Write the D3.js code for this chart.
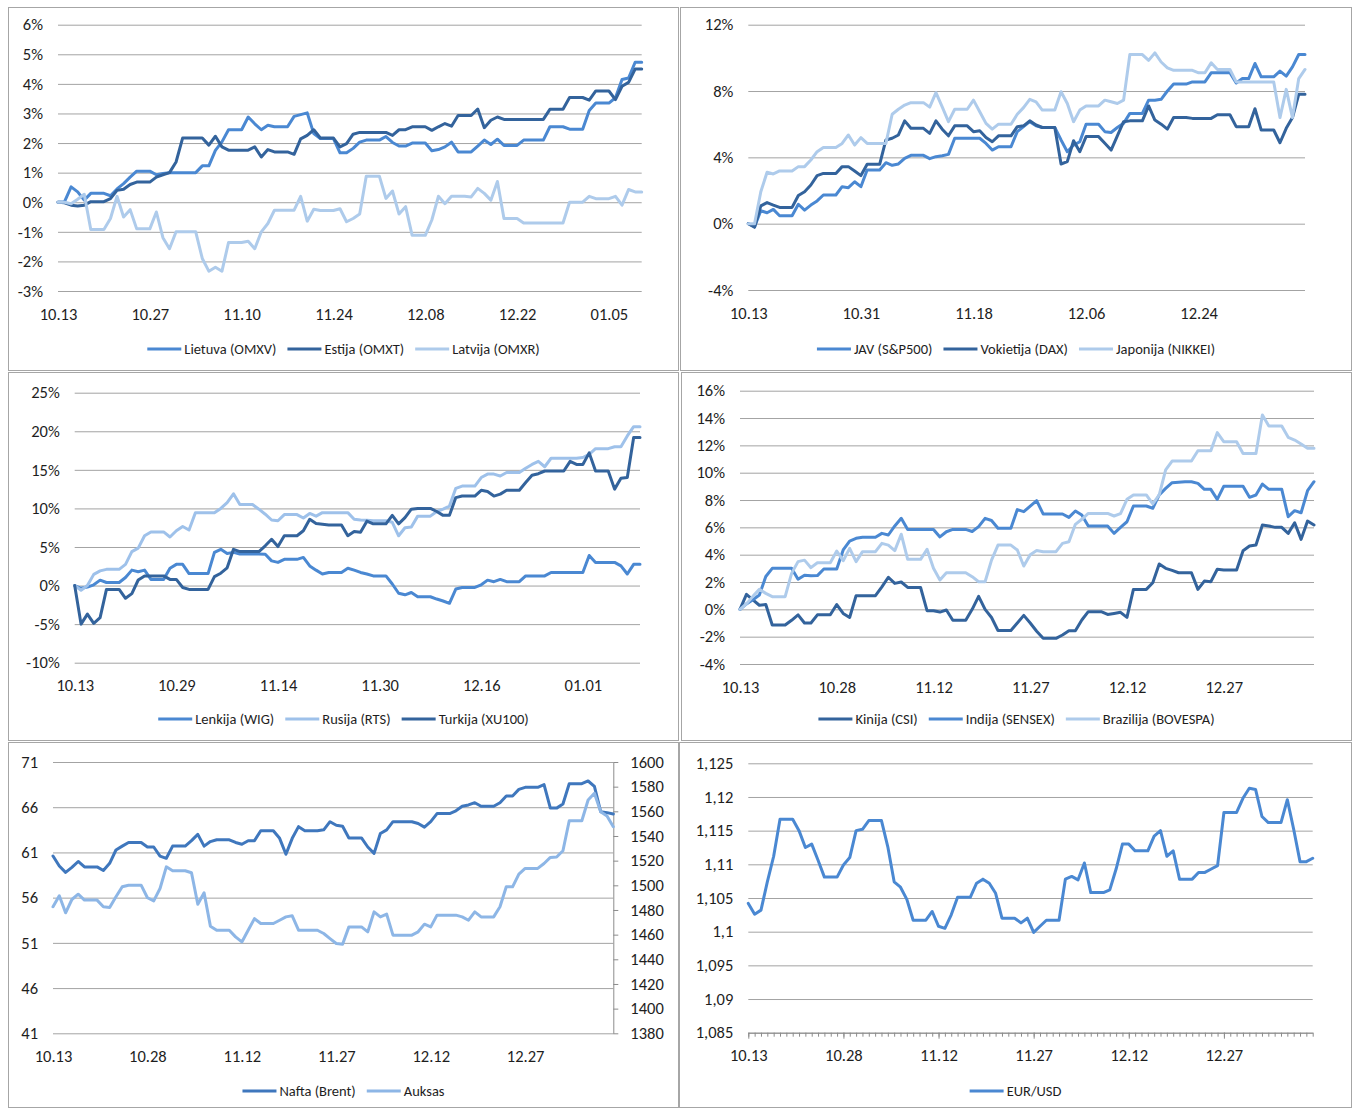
<!DOCTYPE html>
<html><head><meta charset="utf-8">
<script src="https://cdn.jsdelivr.net/npm/d3@7"></script>
<style>
body{margin:0;background:#fff;}
svg{display:block;font-family:Carlito, Lato, "Open Sans", sans-serif;}
</style></head><body>
<svg id="c" width="1354" height="1108"></svg>
<script>
// ---- categories (calendar days, 2019-10-13 .. 2020-01-10) ----
const startDay = new Date(2019, 9, 13);
const dates = d3.range(90).map(i => d3.timeFormat("%m.%d")(d3.timeDay.offset(startDay, i)));

// ---- tick labels ----
const ticksP1 = ["10.13","10.27","11.10","11.24","12.08","12.22","01.05"];
const ticksP2 = ["10.13","10.31","11.18","12.06","12.24"];
const ticksP3 = ["10.13","10.29","11.14","11.30","12.16","01.01"];
const ticksP4 = ["10.13","10.28","11.12","11.27","12.12","12.27"];

// ---- panel 1: Baltic (%) ----
const lietuva = [0,0.02,0.52,0.35,0.07,0.3,0.3,0.3,0.22,0.45,
0.63,0.85,1.05,1.05,1.05,0.93,0.97,1.0,1.0,1.0,
1.0,1.0,1.23,1.23,1.75,2.04,2.45,2.45,2.45,2.88,
2.65,2.45,2.6,2.55,2.55,2.55,2.9,2.96,3.02,2.32,
2.15,2.15,2.15,1.67,1.67,1.82,2.03,2.1,2.1,2.1,
2.22,2.02,1.9,1.9,2.0,2.0,2.0,1.74,1.78,1.87,
2.03,1.7,1.7,1.7,1.9,2.1,1.95,2.13,1.92,1.92,
1.92,2.1,2.1,2.1,2.1,2.55,2.55,2.55,2.47,2.47,
2.47,3.1,3.35,3.35,3.35,3.53,4.15,4.2,4.73,4.73];
const estija = [0,-0.02,-0.1,-0.13,-0.1,0.02,0.02,0.02,0.12,0.4,
0.44,0.6,0.68,0.68,0.68,0.85,0.93,1.0,1.36,2.17,
2.17,2.17,2.17,1.93,2.23,1.87,1.76,1.76,1.76,1.76,
1.87,1.53,1.78,1.7,1.7,1.7,1.62,2.14,2.26,2.45,
2.17,2.17,2.17,1.87,1.98,2.3,2.36,2.36,2.36,2.36,
2.36,2.26,2.45,2.45,2.55,2.55,2.55,2.43,2.55,2.66,
2.57,2.93,2.93,2.93,3.15,2.52,2.77,2.88,2.8,2.8,
2.8,2.8,2.8,2.8,2.8,3.14,3.14,3.14,3.54,3.54,
3.54,3.45,3.76,3.76,3.76,3.47,3.92,4.05,4.5,4.5];
const latvija = [0,0,-0.05,0.1,0.27,-0.92,-0.92,-0.92,-0.55,0.2,
-0.5,-0.25,-0.9,-0.9,-0.9,-0.33,-1.2,-1.57,-1.0,-1.0,
-1.0,-1.0,-1.9,-2.33,-2.2,-2.33,-1.36,-1.36,-1.36,-1.32,
-1.57,-1.0,-0.72,-0.27,-0.27,-0.27,-0.27,0.2,-0.64,-0.24,
-0.28,-0.28,-0.28,-0.22,-0.66,-0.55,-0.4,0.88,0.88,0.88,
0.13,0.38,-0.4,-0.15,-1.12,-1.12,-1.12,-0.6,0.2,-0.05,
0.2,0.2,0.2,0.18,0.47,0.3,0.07,0.7,-0.55,-0.55,
-0.55,-0.7,-0.7,-0.7,-0.7,-0.7,-0.7,-0.7,0.0,0.0,
0.0,0.2,0.12,0.12,0.12,0.2,-0.1,0.43,0.35,0.35];

// ---- panel 2: developed (%) ----
const jav = [0,-0.18,0.78,0.66,0.86,0.48,0.48,0.48,1.17,0.82,
1.12,1.37,1.73,1.73,1.73,2.23,2.17,2.53,2.23,3.24,
3.24,3.24,3.68,3.52,3.6,3.94,4.12,4.12,4.12,3.92,
4.04,4.1,4.18,5.15,5.15,5.15,5.15,5.15,4.84,4.44,
4.64,4.64,4.64,5.55,5.85,6.15,5.9,5.8,5.8,5.8,
5.05,4.34,4.74,4.94,6.0,6.0,6.0,5.55,5.5,5.8,
6.05,6.65,6.65,6.65,7.45,7.45,7.5,8.0,8.42,8.42,
8.42,8.55,8.55,8.55,9.1,9.1,9.1,9.1,8.48,8.75,
8.75,9.66,8.86,8.86,8.86,9.2,8.9,9.46,10.2,10.2];
const vokietija = [0,-0.22,1.07,1.27,1.12,0.98,0.98,0.98,1.7,1.93,
2.33,2.9,3.03,3.03,3.03,3.44,3.44,3.18,2.9,3.58,
3.58,3.58,5.05,5.15,5.35,6.2,5.75,5.75,5.75,5.45,
6.2,5.7,5.3,5.9,5.9,5.9,5.55,5.6,5.2,4.94,
5.3,5.3,5.3,5.85,5.9,6.2,5.95,5.8,5.8,5.8,
3.6,3.74,5.0,4.34,5.25,5.25,5.25,4.85,4.44,5.3,
6.15,6.2,6.2,6.2,7.1,6.25,6.0,5.7,6.4,6.4,
6.4,6.35,6.35,6.35,6.35,6.57,6.57,6.57,5.85,5.85,
5.85,6.93,5.65,5.65,5.65,4.88,5.75,6.4,7.8,7.8];
const japonija = [0,0,1.93,3.1,3.0,3.18,3.18,3.18,3.44,3.44,
3.84,4.34,4.6,4.6,4.6,4.84,5.35,4.74,5.19,4.84,
4.84,4.84,4.84,6.6,6.9,7.15,7.3,7.3,7.3,7.03,
7.9,7.05,6.15,6.9,6.9,6.9,7.45,6.75,6.05,5.7,
6.0,6.0,6.0,6.6,7.0,7.5,7.35,6.85,6.85,6.85,
7.96,7.25,6.15,6.85,7.1,7.1,7.1,7.45,7.35,7.25,
7.45,10.2,10.2,10.2,9.85,10.3,9.75,9.4,9.25,9.25,
9.25,9.25,9.1,9.1,9.7,9.3,9.3,9.3,8.55,8.55,
8.55,8.55,8.55,8.55,8.55,6.4,8.1,6.4,8.75,9.3];

// ---- panel 3: emerging Europe (%) ----
const lenkija = [0,-0.35,-0.2,0.1,0.7,0.4,0.4,0.4,1.05,2.0,
1.8,2.0,0.8,0.8,0.8,2.25,2.75,2.75,1.55,1.55,
1.55,1.55,4.3,4.7,4.15,4.3,4.1,4.1,4.1,4.1,
4.05,3.2,3.0,3.4,3.4,3.4,3.65,2.55,2.0,1.5,
1.7,1.7,1.7,2.25,2.0,1.7,1.5,1.25,1.25,1.25,
0.2,-1.0,-1.2,-0.9,-1.45,-1.45,-1.45,-1.75,-2.0,-2.3,
-0.45,-0.25,-0.25,-0.25,0.1,0.7,0.5,0.8,0.5,0.5,
0.5,1.25,1.25,1.25,1.25,1.7,1.7,1.7,1.7,1.7,
1.7,3.9,3.0,3.0,3.0,3.0,2.55,1.5,2.75,2.75];
const rusija = [0,-0.6,0,1.45,1.9,2.1,2.1,2.1,2.75,4.4,
4.85,6.45,6.95,6.95,6.95,6.3,7.1,7.65,7.2,9.45,
9.45,9.45,9.45,10.0,10.75,11.9,10.5,10.5,10.5,9.9,
9.25,8.5,8.4,9.2,9.2,9.2,8.75,9.35,9.0,9.45,
9.45,9.45,9.45,9.45,8.6,8.5,8.45,8.4,8.4,8.4,
8.2,6.45,7.5,7.6,9.0,9.0,9.0,9.6,9.9,10.3,
12.6,12.9,12.9,12.9,14.0,14.45,14.45,14.2,14.65,14.65,
14.65,15.2,15.7,16.1,15.4,16.5,16.5,16.5,16.5,16.5,
16.6,17.0,17.75,17.75,17.75,18.0,18.0,19.4,20.6,20.6];
const turkija = [0,-5.0,-3.7,-4.9,-4.15,-0.5,-0.5,-0.5,-1.65,-1.05,
0.72,1.25,1.25,1.25,1.25,0.8,0.8,-0.25,-0.5,-0.5,
-0.5,-0.5,1.15,1.6,2.3,4.7,4.4,4.4,4.4,4.4,
5.15,6.0,5.05,6.45,6.45,6.45,7.1,8.6,8.05,7.95,
7.85,7.85,7.85,6.45,7.0,6.9,8.35,8.0,8.0,8.0,
9.1,8.0,8.8,9.9,10.0,10.0,10.0,9.6,9.1,9.1,
11.4,11.6,11.6,11.6,12.35,12.2,11.6,11.85,12.35,12.35,
12.35,13.35,14.3,14.5,14.85,14.85,14.85,14.85,16.1,15.7,
15.7,17.2,14.85,14.85,14.85,12.5,13.9,14.0,19.2,19.2];

// ---- panel 4: BRIC-like (%) ----
const kinija = [0,1.1,0.7,0.3,0.35,-1.15,-1.15,-1.15,-0.8,-0.4,
-1.0,-1.0,-0.4,-0.4,-0.4,0.35,-0.3,-0.6,1.0,1.0,
1.0,1.0,1.65,2.35,1.9,2.0,1.6,1.6,1.6,-0.1,
-0.1,-0.2,-0.05,-0.8,-0.8,-0.8,0.0,0.95,0.0,-0.6,
-1.55,-1.55,-1.55,-1.0,-0.44,-1.0,-1.6,-2.12,-2.12,-2.12,
-1.88,-1.56,-1.56,-0.78,-0.17,-0.17,-0.17,-0.37,-0.3,-0.22,
-0.59,1.46,1.46,1.46,1.95,3.32,3.0,2.85,2.68,2.68,
2.68,1.46,2.07,2.02,2.93,2.88,2.88,2.88,4.29,4.63,
4.71,6.17,6.1,6.0,6.0,5.56,6.34,5.12,6.46,6.17];
const indija = [0,0.4,0.7,1.05,2.4,3.0,3.0,3.0,3.0,2.2,
2.5,2.45,2.47,2.95,2.95,2.95,4.35,5.0,5.2,5.27,
5.27,5.27,5.56,5.44,6.1,6.66,5.85,5.85,5.85,5.85,
5.85,5.3,5.68,5.85,5.85,5.85,5.7,6.05,6.66,6.5,
5.93,5.93,5.93,7.3,7.15,7.55,7.95,6.98,6.98,6.98,
6.98,6.73,7.2,6.9,6.1,6.1,6.1,6.1,5.56,6.0,
6.41,7.56,7.56,7.56,7.4,8.37,8.85,9.27,9.3,9.34,
9.34,9.22,8.78,8.78,8.05,9.0,9.0,9.0,9.0,8.2,
8.37,9.17,8.78,8.78,8.78,6.78,7.22,7.07,8.68,9.34];
const brazilija = [0,0.4,0.95,1.46,1.17,0.93,0.93,0.93,2.63,3.49,
3.6,3.05,3.41,3.41,3.41,4.27,3.56,4.46,3.49,4.22,
4.22,4.22,4.83,4.7,4.3,5.5,3.66,3.66,3.66,4.39,
3.0,2.15,2.68,2.68,2.68,2.68,2.39,2.02,2.02,3.6,
4.7,4.7,4.7,4.34,3.17,4.0,4.3,4.22,4.22,4.22,
4.83,4.95,6.22,6.59,7.02,7.02,7.02,7.02,6.83,7.0,
8.05,8.37,8.37,8.37,7.71,8.37,10.2,10.85,10.85,10.85,
10.85,11.6,11.6,11.6,12.93,12.27,12.27,12.27,11.41,11.41,
11.41,14.22,13.41,13.41,13.41,12.59,12.39,12.1,11.78,11.78];

// ---- panel 5: commodities ----
const nafta = [60.6,59.5,58.8,59.35,60.0,59.4,59.4,59.4,59.0,59.8,
61.27,61.7,62.1,62.1,62.1,61.6,61.6,60.6,60.35,61.7,
61.7,61.7,62.3,63.0,61.7,62.2,62.4,62.4,62.4,62.1,
61.9,62.3,62.3,63.4,63.4,63.4,62.56,60.8,62.56,63.85,
63.4,63.4,63.4,63.5,64.4,64.0,63.9,62.6,62.6,62.6,
61.6,60.9,63.1,63.5,64.4,64.4,64.4,64.4,64.2,63.8,
64.4,65.3,65.3,65.3,65.6,66.1,66.25,66.5,66.1,66.1,
66.1,66.5,67.24,67.24,67.97,68.2,68.2,68.2,68.5,65.9,
65.9,66.35,68.6,68.6,68.6,68.9,68.3,65.5,65.4,65.25];
const auksas = [1482.6,1491.5,1477.7,1488.5,1492.8,1488,1488,1488,1482.6,1482,
1490.7,1498.8,1500.1,1500.1,1500.1,1489.9,1487.4,1497.4,1515,1511.8,
1511.8,1511.8,1510.2,1484.7,1494,1466.9,1463.6,1463.6,1463.6,1458.2,
1454.1,1463.6,1473,1469,1469,1469,1471.7,1474.4,1475.3,1463.6,
1463.6,1463.6,1463.6,1460.9,1456.8,1452.8,1452.3,1466.3,1466.3,1466.3,
1462.3,1478.5,1474.4,1476.6,1459.6,1459.6,1459.6,1459.6,1462.3,1468.5,
1466.3,1475.8,1475.8,1475.8,1475.8,1474.4,1471.7,1478.5,1474.4,1474.4,
1474.4,1482.6,1498.8,1498.8,1509.1,1513.7,1513.7,1513.7,1517.7,1522.6,
1523,1528,1552.4,1552.4,1552.4,1569.2,1574.6,1559.7,1556.2,1547.5];

// ---- panel 6: EUR/USD ----
const eurusd = [1.1042,1.1026,1.1032,1.1074,1.1112,1.1167,1.1167,1.1167,1.1150,1.1125,
1.1130,1.1106,1.1081,1.1081,1.1081,1.1099,1.1110,1.1150,1.1152,1.1165,
1.1165,1.1165,1.1126,1.1074,1.1066,1.1048,1.1017,1.1017,1.1017,1.1030,
1.1008,1.1005,1.1025,1.1051,1.1051,1.1051,1.1072,1.1078,1.1072,1.1057,
1.1020,1.1020,1.1020,1.1013,1.1020,1.0999,1.1008,1.1017,1.1017,1.1017,
1.1078,1.1082,1.1077,1.1102,1.1058,1.1058,1.1058,1.1062,1.1093,1.1130,
1.1130,1.1120,1.1120,1.1120,1.1142,1.1150,1.1112,1.1120,1.1078,1.1078,
1.1078,1.1088,1.1088,1.1093,1.1098,1.1177,1.1177,1.1177,1.1198,1.1213,
1.1211,1.1171,1.1162,1.1162,1.1162,1.1196,1.1152,1.1104,1.1104,1.1109];

// ---- styling ----
const MID = "#4a88d2", DARK = "#33639c", LIGHT = "#aecbeb", LIGHT2 = "#9ec1ea";
const GRID = "#a3a3a3", BORDER = "#a6a6a6", TXT = "#1e1e1e";
const TICKFONT = 16.5, LEGFONT = 14.5;
const pct = v => String(v) + "%";
const comma = v => String(+v.toFixed(3)).replace(".", ",");

const panels = [
  { box:[8.5,7.5,670,363], plot:{l:58,r:641.7,t:24.7,b:291}, y:{dom:[-3,6],step:1,fmt:pct},
    xt:ticksP1, ly:349,
    series:[{name:"Lietuva (OMXV)",data:lietuva,color:MID},{name:"Estija (OMXT)",data:estija,color:DARK},{name:"Latvija (OMXR)",data:latvija,color:LIGHT}] },
  { box:[680.5,7.5,671,363], plot:{l:748.3,r:1305,t:24.7,b:290}, y:{dom:[-4,12],step:4,fmt:pct},
    xt:ticksP2, ly:349,
    series:[{name:"JAV (S&P500)",data:jav,color:MID},{name:"Vokietija (DAX)",data:vokietija,color:DARK},{name:"Japonija (NIKKEI)",data:japonija,color:LIGHT}] },
  { box:[8.5,372.5,670,368], plot:{l:74.7,r:640,t:392.7,b:662.7}, y:{dom:[-10,25],step:5,fmt:pct},
    xt:ticksP3, ly:719,
    series:[{name:"Lenkija (WIG)",data:lenkija,color:MID},{name:"Rusija (RTS)",data:rusija,color:LIGHT2},{name:"Turkija (XU100)",data:turkija,color:DARK}] },
  { box:[681.5,372.5,670,368], plot:{l:740,r:1314,t:390.7,b:664}, y:{dom:[-4,16],step:2,fmt:pct},
    xt:ticksP4, ly:719,
    series:[{name:"Kinija (CSI)",data:kinija,color:DARK},{name:"Indija (SENSEX)",data:indija,color:MID},{name:"Brazilija (BOVESPA)",data:brazilija,color:LIGHT}] },
  { box:[8.5,742.5,670,365], plot:{l:53,r:613.3,t:762,b:1033.3}, y:{dom:[41,71],step:5,fmt:v=>String(v)},
    y2:{dom:[1380,1600],step:20},
    xt:ticksP4, ly:1091,
    series:[{name:"Nafta (Brent)",data:nafta,color:"#3f77bd"},{name:"Auksas",data:auksas,color:"#8db6e6",right:true}] },
  { box:[679.5,742.5,672,365], plot:{l:748.3,r:1312.7,t:763.3,b:1032.7}, y:{dom:[1.085,1.125],step:0.005,fmt:comma},
    xt:ticksP4, ly:1091, xaxis:true,
    series:[{name:"EUR/USD",data:eurusd,color:MID}] }
];

const svg = d3.select("#c");

panels.forEach(p => {
  const g = svg.append("g");
  g.append("rect").attr("x",p.box[0]).attr("y",p.box[1]).attr("width",p.box[2]).attr("height",p.box[3])
    .attr("fill","none").attr("stroke",BORDER).attr("stroke-width",1);

  const x = d3.scaleLinear().domain([0, dates.length-1]).range([p.plot.l, p.plot.r]);
  const y = d3.scaleLinear().domain(p.y.dom).range([p.plot.b, p.plot.t]);
  const n = Math.round((p.y.dom[1]-p.y.dom[0])/p.y.step);
  const yTicks = d3.range(n+1).map(k => p.y.dom[0] + k*p.y.step);

  const ya = g.append("g").attr("transform",`translate(${p.plot.l},0)`)
    .call(d3.axisLeft(y).tickValues(yTicks).tickSize(-(p.plot.r-p.plot.l)).tickPadding(15).tickFormat(p.y.fmt));
  ya.select(".domain").remove();
  ya.selectAll(".tick line").attr("stroke",GRID).attr("stroke-width",1);
  ya.selectAll(".tick text").attr("font-size",TICKFONT).attr("fill",TXT).attr("font-family","Carlito, Lato, sans-serif");

  let y2 = null;
  if (p.y2) {
    y2 = d3.scaleLinear().domain(p.y2.dom).range([p.plot.b, p.plot.t]);
    const n2 = Math.round((p.y2.dom[1]-p.y2.dom[0])/p.y2.step);
    const t2 = d3.range(n2+1).map(k => p.y2.dom[0] + k*p.y2.step);
    const ra = g.append("g").attr("transform",`translate(${p.plot.r},0)`)
      .call(d3.axisRight(y2).tickValues(t2).tickSize(5).tickSizeOuter(0).tickPadding(12).tickFormat(d3.format("d")));
    ra.select(".domain").attr("stroke","#8c8c8c");
    ra.selectAll(".tick line").attr("stroke","#8c8c8c");
    ra.selectAll(".tick text").attr("font-size",TICKFONT).attr("fill",TXT).attr("font-family","Carlito, Lato, sans-serif");
  }

  const xIdx = p.xt.map(s => dates.indexOf(s));
  if (p.xaxis) {
    const minor = g.append("g").attr("transform",`translate(0,${p.plot.b})`)
      .call(d3.axisBottom(x).tickValues(d3.range(dates.length)).tickSize(4).tickSizeOuter(0).tickFormat(""));
    minor.select(".domain").attr("stroke","#8c8c8c");
    minor.selectAll(".tick line").attr("stroke","#8c8c8c");
    const major = g.append("g").attr("transform",`translate(0,${p.plot.b})`)
      .call(d3.axisBottom(x).tickValues(xIdx).tickSize(6).tickSizeOuter(0).tickPadding(11).tickFormat(i => dates[i]));
    major.select(".domain").remove();
    major.selectAll(".tick line").attr("stroke","#8c8c8c");
    major.selectAll(".tick text").attr("font-size",TICKFONT).attr("fill",TXT).attr("font-family","Carlito, Lato, sans-serif");
  } else {
    const xa = g.append("g").attr("transform",`translate(0,${p.plot.b})`)
      .call(d3.axisBottom(x).tickValues(xIdx).tickSize(0).tickPadding(17).tickFormat(i => dates[i]));
    xa.select(".domain").remove();
    xa.selectAll(".tick text").attr("font-size",TICKFONT).attr("fill",TXT).attr("font-family","Carlito, Lato, sans-serif");
  }

  p.series.forEach(s => {
    const sy = s.right ? y2 : y;
    const line = d3.line().x((d,i) => x(i)).y(d => sy(d));
    g.append("path").datum(s.data).attr("d", line).attr("fill","none")
      .attr("stroke", s.color).attr("stroke-width",3).attr("stroke-linejoin","round").attr("stroke-linecap","round");
  });

  // legend
  const LL = 34, GAP = 11;
  const lg = g.append("g");
  let cx = 0;
  p.series.forEach(s => {
    const it = lg.append("g").attr("transform",`translate(${cx},0)`);
    it.append("line").attr("x1",0).attr("x2",LL).attr("y1",0).attr("y2",0).attr("stroke",s.color).attr("stroke-width",3);
    const t = it.append("text").attr("x",LL+3).attr("dy","0.35em").attr("font-size",LEGFONT).attr("fill",TXT).text(s.name);
    cx += LL + 3 + t.node().getComputedTextLength() + GAP;
  });
  const total = cx - GAP;
  const center = p.box[0] + p.box[2]/2;
  lg.attr("transform",`translate(${center - total/2},${p.ly})`);
});
</script>
</body></html>
